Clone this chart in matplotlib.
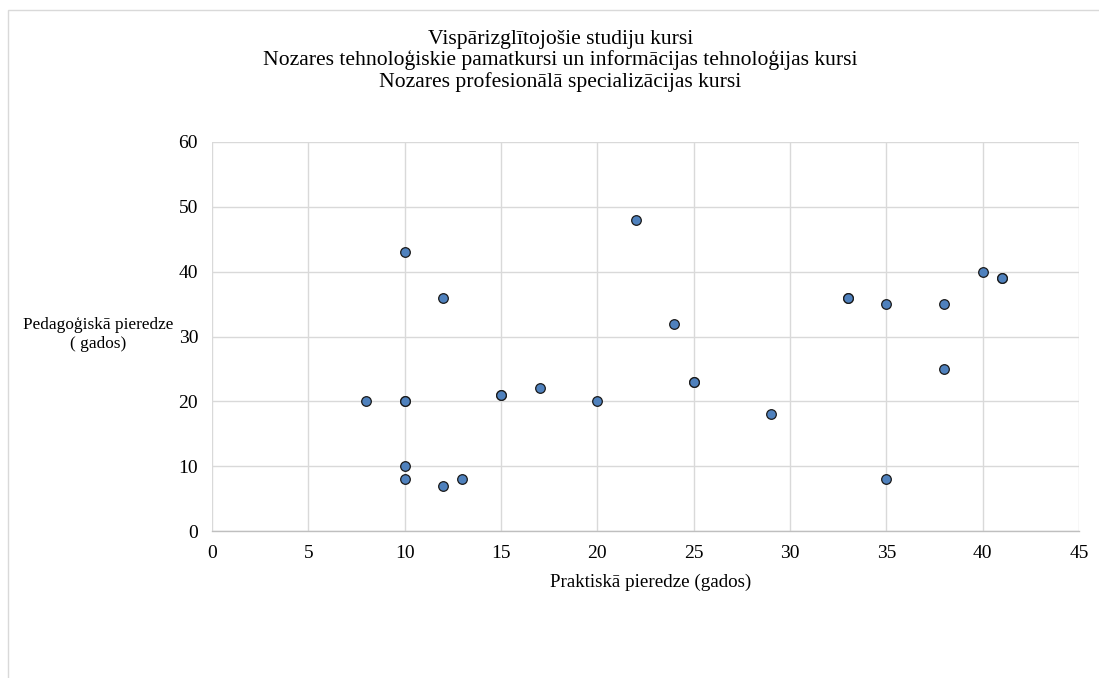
import matplotlib
matplotlib.use("Agg")
import matplotlib.pyplot as plt
from matplotlib.patches import Rectangle

# Practical vs. pedagogical experience (years)
prakt_pieredze = [8, 10, 10, 10, 10, 10, 12, 12, 13, 15, 15, 17, 20, 22, 24, 25, 25,
                  29, 33, 33, 35, 35, 38, 38, 40, 41, 41]
ped_pieredze = [20, 43, 20, 20, 10, 8, 36, 7, 8, 21, 21, 22, 20, 48, 32, 23, 23,
                18, 36, 36, 35, 8, 35, 25, 40, 39, 39]

title_lines = [
    "Vispārizglītojošie studiju kursi",
    "Nozares tehnoloģiskie pamatkursi un informācijas tehnoloģijas kursi",
    "Nozares profesionālā specializācijas kursi",
]
x_ticks = [0, 5, 10, 15, 20, 25, 30, 35, 40, 45]
y_ticks = [0, 10, 20, 30, 40, 50, 60]

plt.rcParams['font.family'] = ['Liberation Serif', 'DejaVu Serif']

fig = plt.figure(figsize=(10.99, 6.78), dpi=100)
fig.patch.set_facecolor('white')

# Chart border (top and left edges visible)
fig.patches.append(Rectangle((8 / 1099, -0.1), 1.2, (678 - 10) / 678 + 0.1,
                             transform=fig.transFigure, fill=False,
                             edgecolor='#d9d9d9', linewidth=1.0))

ax = fig.add_axes([212 / 1099, 147 / 678, 867 / 1099, 389 / 678])
ax.scatter(prakt_pieredze, ped_pieredze, s=48, c='#4F81BD',
           edgecolors='#1a1a1a', linewidths=0.9, zorder=3)

ax.set_xlim(0, 45)
ax.set_ylim(0, 60)
ax.set_xticks(x_ticks)
ax.set_yticks(y_ticks)
ax.tick_params(axis='both', length=0, labelsize=14, colors='black')
ax.tick_params(axis='x', pad=10)
ax.tick_params(axis='y', pad=10)
ax.grid(True, color='#d9d9d9', linewidth=1.0, zorder=0)
ax.set_axisbelow(True)
for side in ['top', 'right', 'left']:
    ax.spines[side].set_visible(False)
ax.spines['bottom'].set_color('#bfbfbf')
ax.spines['bottom'].set_linewidth(1.0)

fig.text(651 / 1099, 1 - 582 / 678, "Praktiskā pieredze (gados)",
         ha='center', va='center', fontsize=13.7)

fig.text(98.5 / 1099, 1 - 334 / 678, "Pedagoģiskā pieredze\n( gados)",
         ha='center', va='center', fontsize=12.4, linespacing=1.25)

fig.text(560.5 / 1099, 1 - 61 / 678, "\n".join(title_lines),
         ha='center', va='center', fontsize=15.6, linespacing=1.12)

fig.savefig("out.png", dpi=100, facecolor='white')
